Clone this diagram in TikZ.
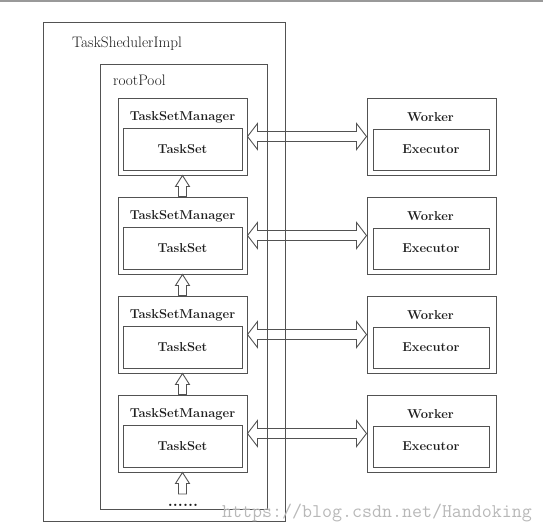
\documentclass[tikz,border=0pt]{standalone}
\usepackage{tikz}
\usetikzlibrary{calc,positioning}

\begin{document}
\begin{tikzpicture}[x=1pt,y=-1pt,
    box/.style={draw=black!68,line width=1pt,inner sep=0pt},
    boxlabel/.style={text=black!88,inner sep=0pt,font=\fontsize{12.9}{15}\selectfont\bfseries},
    biglabel/.style={text=black!90,inner sep=0pt,font=\fontsize{15.2}{18}\selectfont},
    hollow/.style={draw=black!68,line width=0.9pt,line join=miter}]
        \useasboundingbox (0,0) rectangle (543,531);
        \draw[black!40,line width=1.2pt] (0,1) -- (543,1);

        % contenedores
        \node[box,minimum width=242pt,minimum height=499pt] (sched) at (164,271.5) {};
        \node[box,minimum width=167pt,minimum height=445pt] (pool) at (183.5,286.5) {};
        \node[biglabel,anchor=base west] (schedtext) at (72,47) {TaskShedulerImpl};
        \node[biglabel,anchor=base west] (pooltext) at (113,85) {rootPool};

        % TaskSetManager
        \node[box,minimum width=129pt,minimum height=77pt] (m1) at (182.5,136.5) {};
        \node[box,minimum width=129pt,minimum height=77pt] (m2) at (182.5,235.5) {};
        \node[box,minimum width=129pt,minimum height=77pt] (m3) at (182.5,334.5) {};
        \node[box,minimum width=129pt,minimum height=77pt] (m4) at (182.5,433.5) {};

        \node[boxlabel,anchor=base] (m1text) at (182.5,120) {TaskSetManager};
        \node[boxlabel,anchor=base] (m2text) at (182.5,219) {TaskSetManager};
        \node[boxlabel,anchor=base] (m3text) at (182.5,318) {TaskSetManager};
        \node[boxlabel,anchor=base] (m4text) at (182.5,417) {TaskSetManager};

        \node[box,boxlabel,minimum width=119pt,minimum height=42pt] (s1) at (182.5,149) {TaskSet};
        \node[box,boxlabel,minimum width=119pt,minimum height=42pt] (s2) at (182.5,248) {TaskSet};
        \node[box,boxlabel,minimum width=119pt,minimum height=42pt] (s3) at (182.5,347) {TaskSet};
        \node[box,boxlabel,minimum width=119pt,minimum height=42pt] (s4) at (182.5,446) {TaskSet};

        % Worker
        \node[box,minimum width=129pt,minimum height=77pt] (w1) at (431.5,136.5) {};
        \node[box,minimum width=129pt,minimum height=77pt] (w2) at (431.5,235.5) {};
        \node[box,minimum width=129pt,minimum height=77pt] (w3) at (431.5,334.5) {};
        \node[box,minimum width=129pt,minimum height=77pt] (w4) at (431.5,433.5) {};

        \node[boxlabel,anchor=base] (w1text) at (430.5,121) {Worker};
        \node[boxlabel,anchor=base] (w2text) at (430.5,220) {Worker};
        \node[boxlabel,anchor=base] (w3text) at (430.5,319) {Worker};
        \node[boxlabel,anchor=base] (w4text) at (430.5,418) {Worker};

        \node[box,boxlabel,minimum width=116pt,minimum height=41pt] (e1) at (431,149.5) {Executor};
        \node[box,boxlabel,minimum width=116pt,minimum height=41pt] (e2) at (431,248.5) {Executor};
        \node[box,boxlabel,minimum width=116pt,minimum height=41pt] (e3) at (431,347.5) {Executor};
        \node[box,boxlabel,minimum width=116pt,minimum height=41pt] (e4) at (431,446.5) {Executor};

        % flechas dobles
        \draw[hollow] (m1.east) -- ++(10,-13) -- ++(0,8) -- ($(w1.west)+(-10,-5)$) -- ++(0,-8) -- (w1.west)
            -- ++(-10,13) -- ++(0,-8) -- ($(m1.east)+(10,5)$) -- ++(0,8) -- cycle;
        \draw[hollow] (m2.east) -- ++(10,-13) -- ++(0,8) -- ($(w2.west)+(-10,-5)$) -- ++(0,-8) -- (w2.west)
            -- ++(-10,13) -- ++(0,-8) -- ($(m2.east)+(10,5)$) -- ++(0,8) -- cycle;
        \draw[hollow] (m3.east) -- ++(10,-13) -- ++(0,8) -- ($(w3.west)+(-10,-5)$) -- ++(0,-8) -- (w3.west)
            -- ++(-10,13) -- ++(0,-8) -- ($(m3.east)+(10,5)$) -- ++(0,8) -- cycle;
        \draw[hollow] (m4.east) -- ++(10,-13) -- ++(0,8) -- ($(w4.west)+(-10,-5)$) -- ++(0,-8) -- (w4.west)
            -- ++(-10,13) -- ++(0,-8) -- ($(m4.east)+(10,5)$) -- ++(0,8) -- cycle;

        % flechas hacia arriba
        \node[boxlabel,anchor=base,font=\fontsize{16}{18}\selectfont\bfseries] (dots) at (183,506) {......};
        \coordinate (tail) at (182.5,494);

        \draw[hollow] (m1.south) -- ++(7,11) -- ++(-3,0) -- ($(m2.north)+(4,0)$) -- ++(-8,0)
            -- ($(m1.south)+(-4,11)$) -- ++(-3,0) -- cycle;
        \draw[hollow] (m2.south) -- ++(7,11) -- ++(-3,0) -- ($(m3.north)+(4,0)$) -- ++(-8,0)
            -- ($(m2.south)+(-4,11)$) -- ++(-3,0) -- cycle;
        \draw[hollow] (m3.south) -- ++(7,11) -- ++(-3,0) -- ($(m4.north)+(4,0)$) -- ++(-8,0)
            -- ($(m3.south)+(-4,11)$) -- ++(-3,0) -- cycle;
        \draw[hollow] (m4.south) -- ++(7,11) -- ++(-3,0) -- ($(tail)+(4,0)$) -- ++(-8,0)
            -- ($(m4.south)+(-4,11)$) -- ++(-3,0) -- cycle;

        \node[text=black!28,inner sep=0pt,anchor=base west,font=\fontsize{19.4}{20}\selectfont\ttfamily] (mark) at (222,517) {https://blog.csdn.net/Handoking};
    \end{tikzpicture}
\end{document}
